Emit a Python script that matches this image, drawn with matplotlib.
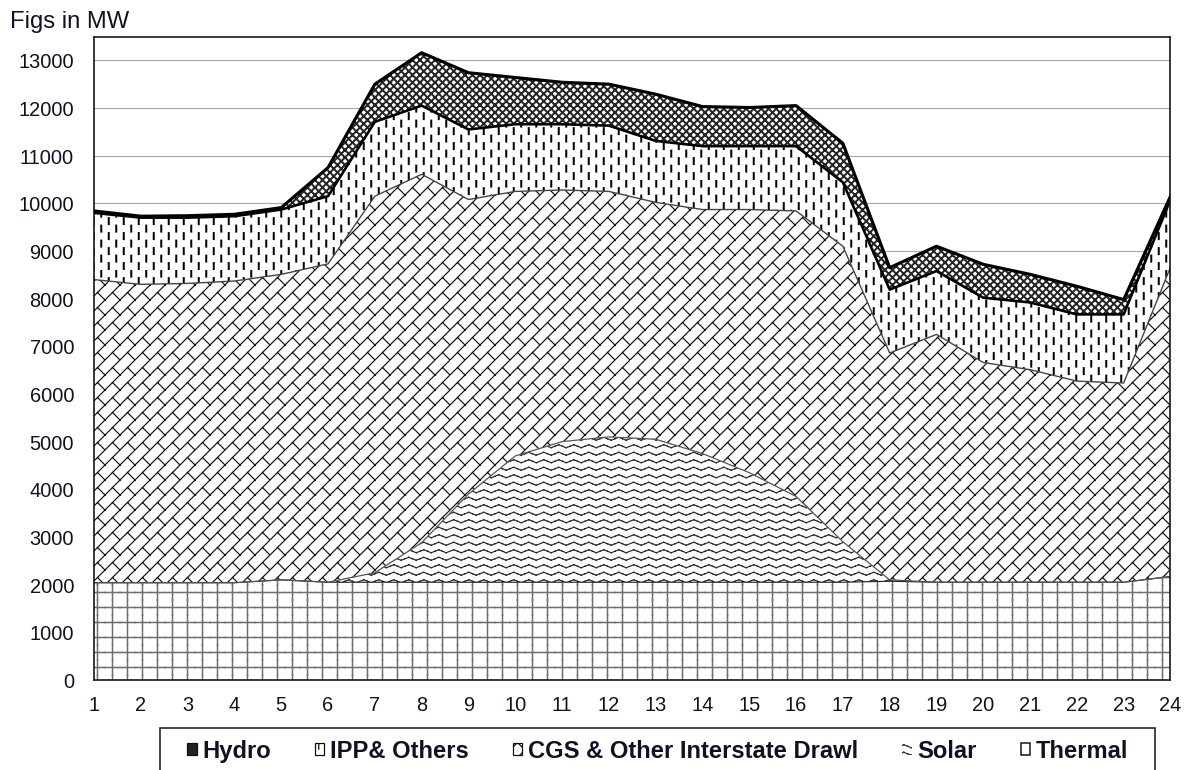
import warnings
warnings.filterwarnings('ignore')
import matplotlib
matplotlib.use('Agg')
import matplotlib.pyplot as plt
import matplotlib.hatch as mhatch
from matplotlib.path import Path
from matplotlib.patches import Patch, Rectangle
import numpy as np

# ---------------- data (MW) ----------------
hours = list(range(1, 25))
thermal = [2040, 2040, 2040, 2040, 2100, 2050, 2050, 2050, 2050, 2050, 2050, 2050,
           2050, 2050, 2050, 2050, 2050, 2070, 2050, 2050, 2050, 2050, 2050, 2170]
solar = [0, 0, 0, 0, 0, 0, 200, 830, 1850, 2650, 2950, 3050,
         3000, 2700, 2300, 1800, 850, 30, 0, 0, 0, 0, 0, 0]
cgs = [6360, 6260, 6280, 6330, 6410, 6680, 7900, 7730, 6180, 5550, 5280, 5150,
       4970, 5120, 5520, 5990, 6200, 4760, 5200, 4610, 4460, 4220, 4180, 6490]
ipp = [1400, 1400, 1380, 1360, 1360, 1420, 1560, 1440, 1470, 1410, 1380, 1380,
       1290, 1330, 1330, 1360, 1340, 1330, 1330, 1360, 1410, 1400, 1440, 1420]
hydro = [40, 30, 40, 40, 40, 600, 790, 1110, 1190, 980, 880, 870,
         980, 830, 810, 850, 820, 460, 520, 700, 590, 590, 310, 70]
y_ticks = list(range(0, 14000, 1000))
x_ticks = hours
legend_labels = ['Hydro', 'IPP& Others', 'CGS & Other Interstate Drawl', 'Solar', 'Thermal']
y_title = 'Figs in MW'

# ---------------- custom pattern fills ----------------
DPI = 90
NCELL = 6   # pattern cells per hatch tile (tile = 1 inch = 90 px -> 15 px cells)


def register(char, segments):
    """segments: list of 2-point line segments in cell units (0..1)."""
    class _Custom(mhatch.HatchPatternBase):
        def __init__(self, hatch, density):
            on = hatch.count(char) > 0
            self.num_vertices = (2 * len(segments) * NCELL * NCELL) if on else 0

        def set_vertices_and_codes(self, vertices, codes):
            k = 0
            for i in range(NCELL):
                for j in range(NCELL):
                    for (p0, p1) in segments:
                        vertices[k] = ((i + p0[0]) / NCELL, (j + p0[1]) / NCELL)
                        codes[k] = Path.MOVETO
                        vertices[k + 1] = ((i + p1[0]) / NCELL, (j + p1[1]) / NCELL)
                        codes[k + 1] = Path.LINETO
                        k += 2
    mhatch._hatch_types.append(_Custom)


def polyline_to_segments(pts):
    return [(pts[i], pts[i + 1]) for i in range(len(pts) - 1)]


register('g', [((0, 0.5), (1, 0.5)), ((0.5, 0), (0.5, 1))])                        # grid
register('d', [((0.25, 0.06), (0.25, 0.46)), ((0.75, 0.56), (0.75, 0.96))])        # dashes
register('b', [((0, 0), (1, 1)), ((0.5, 0.5), (1, 0))])                            # brick
amp = 0.1
wave = []
for y0 in (0.25, 0.75):
    wave += polyline_to_segments([(0, y0), (0.25, y0 + amp), (0.5, y0),
                                  (0.75, y0 - amp), (1, y0)])
register('w', wave)                                                                 # wave
register('h', [((0, 0), (1, 1)), ((0, 0.5), (0.5, 1)), ((0.5, 0), (1, 0.5)),
               ((0, 1), (1, 0)), ((0, 0.5), (0.5, 0)), ((0.5, 1), (1, 0.5))])      # diamonds

plt.rcParams['font.family'] = ['Liberation Sans', 'DejaVu Sans']

fig = plt.figure(figsize=(1195.5 / DPI, 770.5 / DPI), dpi=DPI)
fig.patch.set_facecolor('white')
ax = fig.add_axes([94 / 1195, 1 - 680 / 770, (1170 - 94) / 1195, (680 - 37) / 770])
ax.set_xlim(1, 24)
ax.set_ylim(0, 13500)

x = np.array(hours)
c1 = np.array(thermal, float)
c2 = c1 + np.array(solar)
c3 = c2 + np.array(cgs)
c4 = c3 + np.array(ipp)
c5 = c4 + np.array(hydro)


def band(lower, upper, hatch, hcolor, hlw):
    with plt.rc_context({'hatch.linewidth': hlw}):
        coll = ax.fill_between(x, lower, upper, facecolor='white', edgecolor=hcolor,
                               linewidth=0, hatch=hatch, zorder=1)
    if hasattr(coll, 'set_hatch_linewidth'):
        coll.set_hatch_linewidth(hlw)
    return coll


band(0, c1, 'g', '#6e6e6e', 1.2)
band(c1, c2, 'w', '#2a2a2a', 0.95)
band(c2, c3, 'b', '#111111', 0.95)
band(c3, c4, 'd', '#000000', 1.6)
band(c4, c5, 'h', '#262626', 1.6)

ax.plot(x, c1, color='#222222', lw=0.9, zorder=3)
ax.plot(x, c2, color='#555555', lw=1.0, zorder=3)
ax.plot(x, c3, color='#444444', lw=1.1, zorder=3)
ax.plot(x, c4, color='#000000', lw=2.1, zorder=4)
ax.plot(x, c5, color='#000000', lw=2.5, zorder=5)

ax.set_axisbelow(True)
ax.yaxis.grid(True, color='#a8a8a8', lw=0.9)
ax.xaxis.grid(False)
for s in ax.spines.values():
    s.set_color('#111111')
    s.set_linewidth(1.3)
    s.set_zorder(6)

ax.set_yticks(y_ticks)
ax.set_yticklabels([str(v) for v in y_ticks])
ax.set_xticks(x_ticks)
ax.set_xticklabels([str(v) for v in x_ticks])
ax.tick_params(axis='both', length=0, labelsize=16, colors='#111122')
ax.tick_params(axis='y', pad=16)
ax.tick_params(axis='x', pad=12.5)

fig.text(10 / 1195, 1 - 28.3 / 770, y_title, fontsize=19, color='#111122',
         ha='left', va='baseline')

handles = [
    Patch(facecolor='#222222', edgecolor='#111111', linewidth=1.0),
    Patch(facecolor='white', edgecolor='#111111', hatch='d', linewidth=1.0),
    Patch(facecolor='white', edgecolor='#111111', hatch='b', linewidth=1.0),
    Patch(facecolor='white', edgecolor='#333333', hatch='w', linewidth=0),
    Patch(facecolor='white', edgecolor='#111111', linewidth=1.2),
]
leg = fig.legend(handles, legend_labels, loc='upper left',
                 bbox_to_anchor=(187 / 1195, 1 - 740 / 770 - 0.001, (1128 - 187) / 1195, 0.001),
                 mode='expand', ncol=5, frameon=False, borderpad=0, borderaxespad=0,
                 handlelength=0.4, handleheight=0.4, handletextpad=0.25,
                 prop={'weight': 'bold', 'size': 19})
for t in leg.get_texts():
    t.set_color('#111122')

frame = Rectangle((160 / 1195, 1 - 790 / 770), (1155 - 160) / 1195, (790 - 728) / 770,
                  transform=fig.transFigure, fill=False, edgecolor='#222222', lw=1.3,
                  clip_on=False)
fig.add_artist(frame)

fig.savefig('out.png', dpi=DPI, facecolor='white')
